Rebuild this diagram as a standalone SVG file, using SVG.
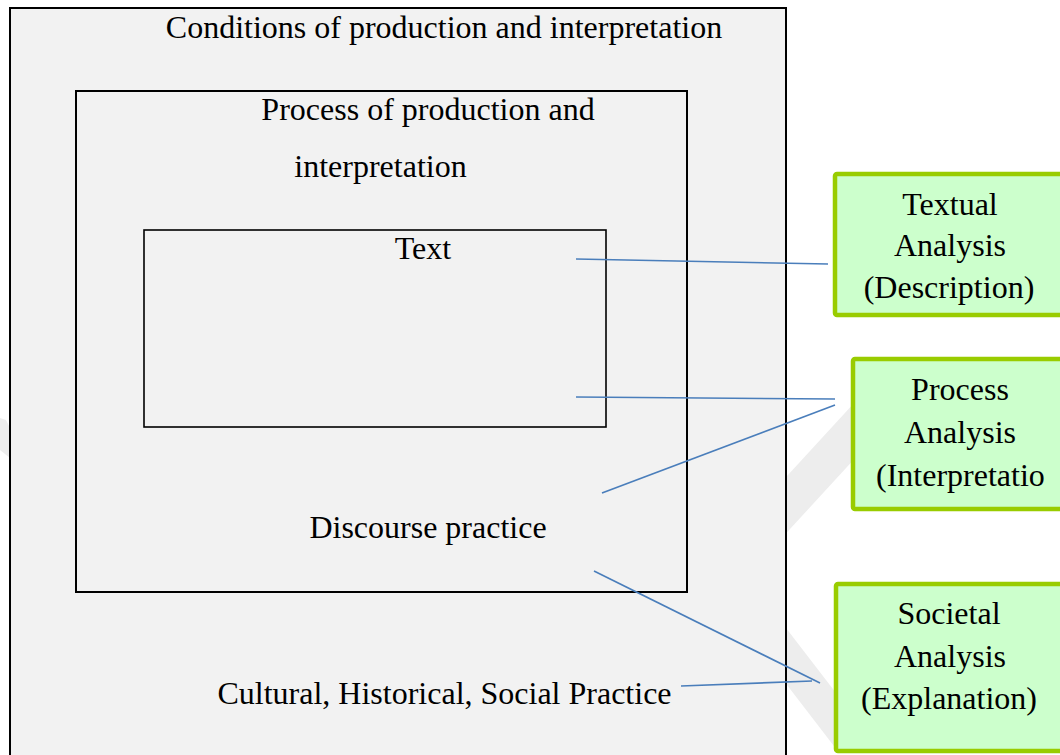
<svg xmlns="http://www.w3.org/2000/svg" width="1060" height="755" viewBox="0 0 1060 755">
<style>
.t{font-family:"Liberation Serif","Times New Roman",serif;font-size:32px;fill:#000}
.m{text-anchor:middle}
.box{fill:#f2f2f2;stroke:#000}
.green{fill:#ccffcc;stroke:#99cc00;stroke-width:4.5}
.wm{fill:none;stroke:#ededed;stroke-linecap:butt}
.con line{stroke:#4a7ebb;stroke-width:1.6;fill:none}
</style>
<defs>
<clipPath id="cu"><rect x="0" y="0" width="855" height="755"/></clipPath>
<clipPath id="cl"><rect x="0" y="0" width="836" height="755"/></clipPath>
</defs>
<rect width="1060" height="755" fill="#fff"/>
<g id="watermark">
<line class="wm" x1="723" y1="574" x2="900" y2="381" stroke-width="38" clip-path="url(#cu)"/>
<line class="wm" x1="723" y1="574" x2="880" y2="778" stroke-width="34" clip-path="url(#cl)"/>
<polygon points="0,418 6,420 10,428 10,458 0,450" fill="#ededed"/>
</g>
<g id="conditions">
<rect class="box" x="10" y="8" width="776" height="760" stroke-width="2"/>
<text class="t m" x="444" y="38">Conditions of production and interpretation</text>
<text class="t m" x="444.5" y="704">Cultural, Historical, Social Practice</text>
</g>
<g id="process">
<rect class="box" x="76" y="91" width="611" height="501" stroke-width="2"/>
<text class="t m" x="428" y="120">Process of production and</text>
<text class="t m" x="380.5" y="177">interpretation</text>
<text class="t m" x="428" y="538">Discourse practice</text>
</g>
<g id="text">
<rect class="box" x="144" y="230" width="462" height="197" stroke-width="1.6"/>
<text class="t m" x="423" y="259">Text</text>
</g>
<g id="textual-analysis">
<rect class="green" x="835" y="174" width="240" height="141" rx="2"/>
<text class="t m" x="950" y="215">Textual</text>
<text class="t m" x="950" y="256">Analysis</text>
<text class="t m" x="949" y="298">(Description)</text>
</g>
<g id="process-analysis">
<rect class="green" x="853" y="359" width="220" height="150" rx="2"/>
<text class="t m" x="960" y="400">Process</text>
<text class="t m" x="960" y="443">Analysis</text>
<text class="t" x="876" y="486">(Interpretatio</text>
</g>
<g id="societal-analysis">
<rect class="green" x="836" y="584" width="240" height="167" rx="2"/>
<text class="t m" x="949" y="624">Societal</text>
<text class="t m" x="950" y="667">Analysis</text>
<text class="t m" x="949" y="709">(Explanation)</text>
</g>
<g id="connectors" class="con">
<line x1="576" y1="259" x2="828" y2="264"/>
<line x1="576" y1="397" x2="835" y2="399"/>
<line x1="602" y1="493" x2="835" y2="405"/>
<line x1="594" y1="571" x2="820" y2="683"/>
<line x1="681" y1="686" x2="812" y2="681"/>
</g>
</svg>
